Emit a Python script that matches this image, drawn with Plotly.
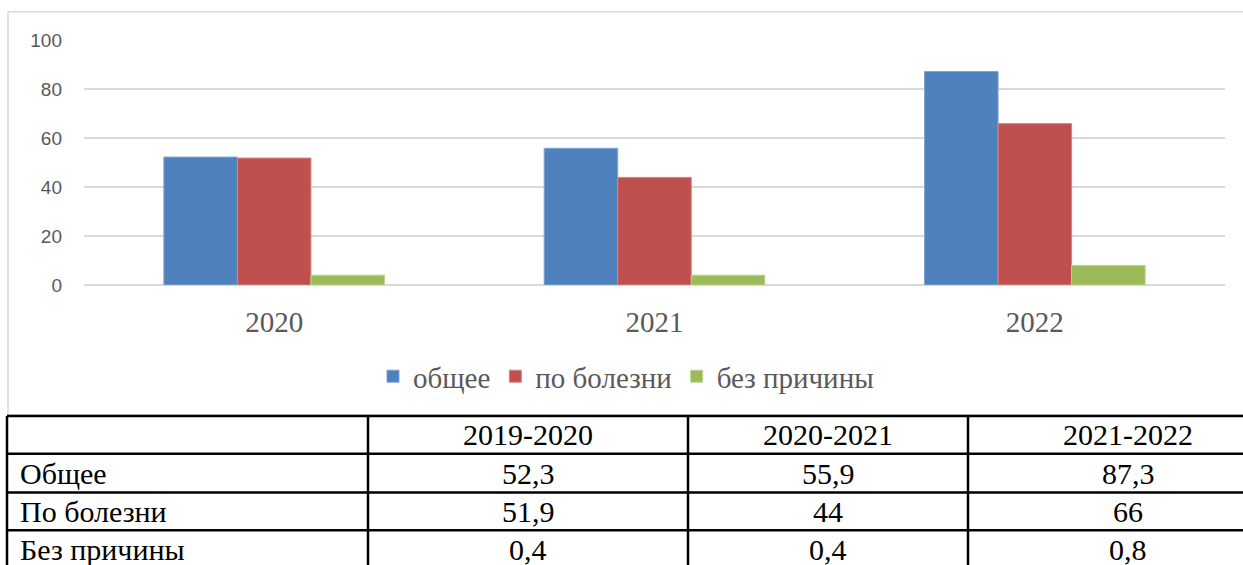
import plotly.graph_objects as go

# ---- data ----
years = ["2020", "2021", "2022"]
series_names = ["общее", "по болезни", "без причины"]
obshchee = [52.3, 55.9, 87.3]
po_bolezni = [51.9, 44, 66]
bez_prichiny = [4, 4, 8]
colors = ["#4F81BD", "#C0504D", "#9BBB59"]
edge_colors = ["#7FA3D1", "#D98380", "#BCD38E"]

table_header = ["2019-2020", "2020-2021", "2021-2022"]
table_rows = ["Общее", "По болезни", "Без причины"]
table_values = [["52,3", "55,9", "87,3"],
                ["51,9", "44", "66"],
                ["0,4", "0,4", "0,8"]]

W, H = 1243, 565
def px(x):
    return x / W
def py(y):
    yf = (y - 8.3) / 0.969
    return 1 - yf / H

SERIF = "Liberation Serif, Times New Roman, serif"
SANS = "Liberation Sans, Arial, sans-serif"
GRAY = "#595959"

fig = go.Figure()
for name, vals, c, ec in zip(series_names, [obshchee, po_bolezni, bez_prichiny], colors, edge_colors):
    fig.add_trace(go.Bar(x=years, y=vals, name=name, marker=dict(color=c, line=dict(color=ec, width=1))))

fig.update_layout(
    width=W, height=H,
    margin=dict(l=0, r=0, t=0, b=0),
    paper_bgcolor="white", plot_bgcolor="white",
    barmode="group", bargap=0.42, bargroupgap=0,
    showlegend=True,
    legend=dict(orientation="h", x=px(626), xanchor="center", y=py(377), yanchor="middle",
                font=dict(family=SERIF, size=29, color=GRAY), itemwidth=30, tracegroupgap=0),
    xaxis=dict(domain=[px(84), px(1225)], showgrid=False, showline=False, zeroline=False,
               tickfont=dict(family=SERIF, size=29, color=GRAY), ticks="", ticklabelstandoff=17),
    yaxis=dict(domain=[py(285), py(39)], range=[0, 100], dtick=20, showgrid=True,
               gridcolor="#D9D9D9", gridwidth=1.5, zeroline=True, zerolinecolor="#D9D9D9",
               zerolinewidth=1.5, showline=False, ticks="",
               tickfont=dict(family=SANS, size=19, color=GRAY), ticklabelstandoff=21),
)

shapes = []
# chart area border
shapes.append(dict(type="rect", xref="paper", yref="paper", x0=px(8), x1=px(1262), y0=py(416), y1=py(10),
                   line=dict(color="#D9D9D9", width=1.5), fillcolor="rgba(0,0,0,0)", layer="below"))
# table lines
row_lines = [417, 455, 494, 532]
col_lines = [7, 368, 688, 968]
for y in row_lines:
    shapes.append(dict(type="line", xref="paper", yref="paper", x0=px(7), x1=px(1295), y0=py(y), y1=py(y),
                       line=dict(color="black", width=2.5)))
for x in col_lines:
    shapes.append(dict(type="line", xref="paper", yref="paper", x0=px(x), x1=px(x), y0=py(417), y1=py(600),
                       line=dict(color="black", width=2.5)))
fig.update_layout(shapes=shapes)

annotations = []
col_centers = [(368 + 688) / 2, (688 + 968) / 2, (968 + 1288) / 2]
row_centers = [(417 + 455) / 2, (455 + 494) / 2, (494 + 532) / 2, (532 + 570) / 2]
tfont = dict(family=SERIF, size=30, color="black")
for cx, t in zip(col_centers, table_header):
    annotations.append(dict(xref="paper", yref="paper", x=px(cx), y=py(row_centers[0]), text=t,
                            showarrow=False, xanchor="center", yanchor="middle", font=tfont))
for ri, (label, vals) in enumerate(zip(table_rows, table_values)):
    yc = row_centers[ri + 1]
    annotations.append(dict(xref="paper", yref="paper", x=px(18), y=py(yc), text=label,
                            showarrow=False, xanchor="left", yanchor="middle", font=tfont))
    for cx, v in zip(col_centers, vals):
        annotations.append(dict(xref="paper", yref="paper", x=px(cx), y=py(yc), text=v,
                                showarrow=False, xanchor="center", yanchor="middle", font=tfont))
fig.update_layout(annotations=annotations)

fig.write_html(
    "out.html",
    config={"displayModeBar": False},
    post_script=("var d=document.getElementById('{plot_id}');"
                 "d.style.position='fixed';d.style.left='0px';d.style.top='0px';"
                 "document.body.style.margin='0';document.documentElement.style.overflow='hidden';"),
)
